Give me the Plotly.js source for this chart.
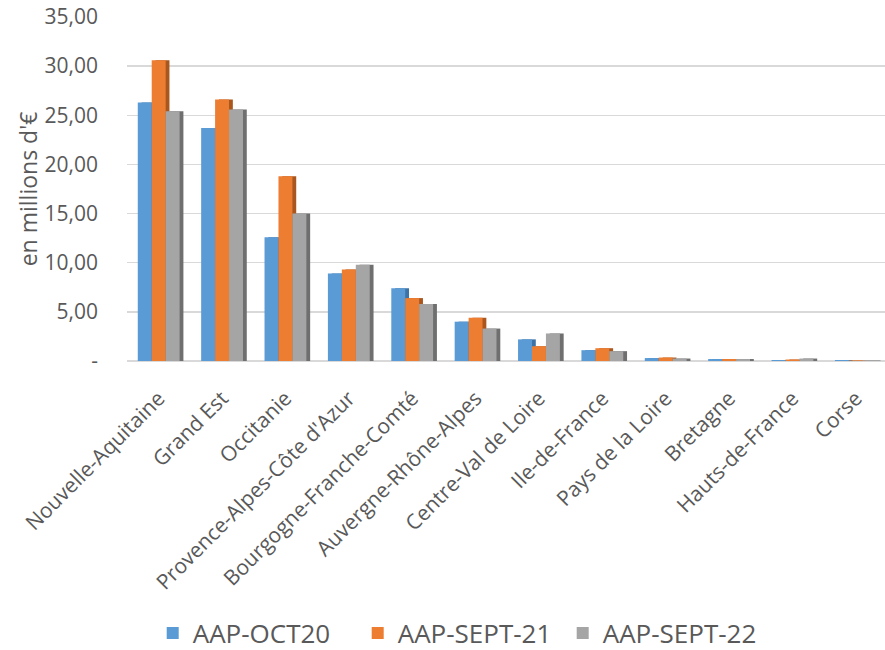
<!DOCTYPE html>
<html>
<head>
<meta charset="utf-8">
<script src="https://cdn.plot.ly/plotly-3.0.1.min.js"></script>
<style>html,body{margin:0;padding:0;background:#fff;}#chart{width:885px;height:650px;}</style>
</head>
<body>
<div id="chart"></div>
<script>
const categories = ["Nouvelle-Aquitaine","Grand Est","Occitanie","Provence-Alpes-Côte d'Azur","Bourgogne-Franche-Comté","Auvergne-Rhône-Alpes","Centre-Val de Loire","Ile-de-France","Pays de la Loire","Bretagne","Hauts-de-France","Corse"];
const seriesNames = ["AAP-OCT20","AAP-SEPT-21","AAP-SEPT-22"];
const aapOct20 = [26.3, 23.7, 12.6, 8.9, 7.4, 4.0, 2.2, 1.1, 0.3, 0.2, 0.1, 0.1];
const aapSept21 = [30.6, 26.6, 18.8, 9.3, 6.4, 4.4, 1.5, 1.3, 0.35, 0.2, 0.15, 0.05];
const aapSept22 = [25.4, 25.6, 15.0, 9.8, 5.8, 3.3, 2.8, 1.0, 0.25, 0.2, 0.25, 0.05];
const yTickVals = [0, 5, 10, 15, 20, 25, 30, 35];
const yTickText = ["-", "5,00", "10,00", "15,00", "20,00", "25,00", "30,00", "35,00"];

const seriesValues = [aapOct20, aapSept21, aapSept22];
const mainColors = ["#5b9bd5", "#ed7d31", "#a5a5a5"];
const darkColors = ["#3d72a6", "#a9561f", "#6f6f6f"];
const barW = 0.22;
const offsets = [-0.33, -0.11, 0.11];
const sideShift = 0.06;

const traces = [];
// depth (side) faces
seriesValues.forEach((vals, i) => {
  traces.push({
    type: 'bar', x: categories, y: vals, width: barW, offset: offsets[i] + sideShift,
    marker: {color: darkColors[i]}, showlegend: false, hoverinfo: 'skip'
  });
});
// front faces
seriesValues.forEach((vals, i) => {
  traces.push({
    type: 'bar', name: seriesNames[i], x: categories, y: vals, width: barW, offset: offsets[i],
    marker: {color: mainColors[i]}
  });
});

const layout = {
  width: 885, height: 650,
  margin: {l: 127, r: 0, t: 17, b: 289},
  paper_bgcolor: '#ffffff', plot_bgcolor: '#ffffff',
  barmode: 'overlay',
  font: {family: '"Open Sans", "Noto Sans", sans-serif', color: '#595959'},
  xaxis: {
    type: 'category', range: [-0.5, 11.46], tickangle: -45,
    tickfont: {size: 21, color: '#595959'}, showgrid: false, showline: false, ticks: '',
    zeroline: false, ticklabelstandoff: 20
  },
  yaxis: {
    range: [0, 35], tickvals: yTickVals, ticktext: yTickText,
    tickfont: {size: 21, color: '#595959'}, gridcolor: '#d9d9d9', gridwidth: 1.5,
    zeroline: true, zerolinecolor: '#d9d9d9', zerolinewidth: 1.5, showline: false,
    ticks: '', ticklabelstandoff: 28,
    title: {text: "en millions d'€", font: {size: 23, color: '#595959'}, standoff: 0}
  },
  legend: {
    orientation: 'h', xref: 'container', yref: 'container', x: 0.52, xanchor: 'center',
    y: 0.026, yanchor: 'middle', font: {size: 26, color: '#595959'}, itemwidth: 30,
    entrywidth: 160, entrywidthmode: 'pixels',
    traceorder: 'normal'
  },
  showlegend: true
};

Plotly.newPlot('chart', traces, layout, {displayModeBar: false, staticPlot: true});
</script>
</body>
</html>
